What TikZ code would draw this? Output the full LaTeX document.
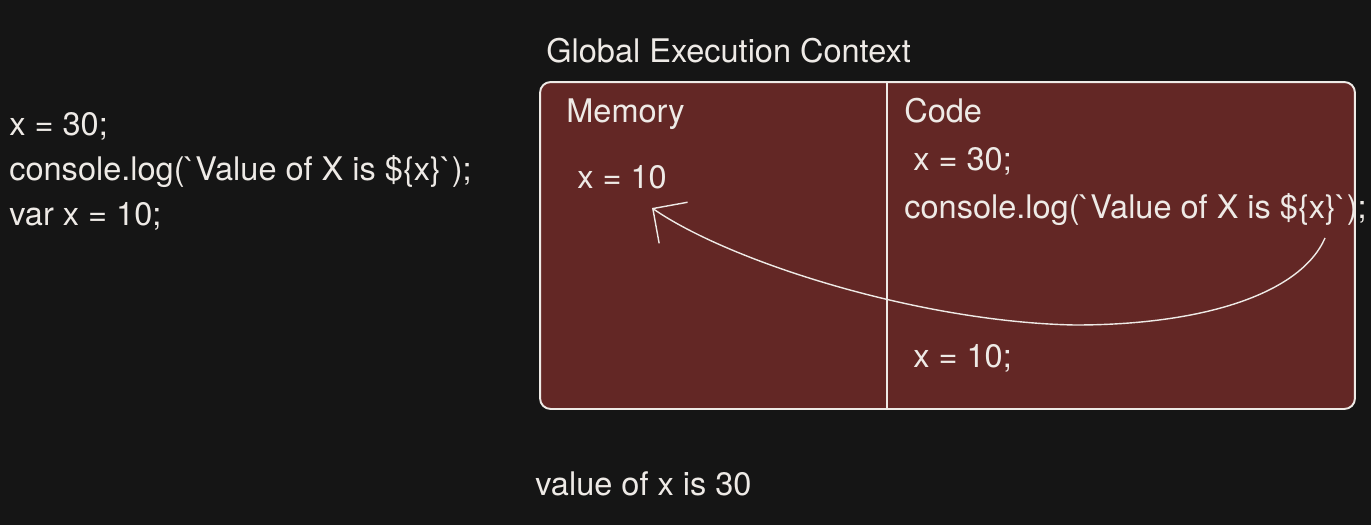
\documentclass[tikz,border=0pt]{standalone}
\usepackage{fontspec}
\setmainfont{TeX Gyre Heros}
\usepackage{tikz}
\usetikzlibrary{arrows.meta}
\definecolor{boardblack}{RGB}{21,21,21}
\definecolor{contextred}{RGB}{99,39,37}
\definecolor{chalkwhite}{RGB}{238,234,230}
\tikzset{
  codeline/.style={anchor=base west,inner sep=0pt,text=chalkwhite,
    font=\fontsize{18.5}{22}\selectfont},
  contextbox/.style={draw=chalkwhite,fill=contextred,rounded corners=6pt,
    line width=1.1pt,inner sep=0pt},
  divider/.style={draw=chalkwhite,line width=1.1pt},
  hoist/.style={-{Straight Barb[length=5mm,width=10mm]},line width=0.8pt,
    draw=chalkwhite}
}
\newcommand{\tick}{\textasciigrave}

\begin{document}
\begin{tikzpicture}[x=0.02cm,y=-0.02cm]
  \fill[boardblack] (0,0) rectangle (1371,525);
  \useasboundingbox (0,0) rectangle (1371,525);
  % source program
  \node[codeline] (src1) at (9,135) {x = 30;};
  \node[codeline] (src2) at (9,180) {console.log(\tick Value of X is \$\{x\}\tick);};
  \node[codeline] (src3) at (9,225) {var x = 10;};
  % execution context
  \node[codeline] (gectitle) at (546,62) {Global Execution Context};
  \node[contextbox,minimum width=16.3cm,minimum height=6.54cm] (gec)
    at (947.5,245.5) {};
  \coordinate (split) at (887,245);
  \draw[divider] (split |- gec.north) -- (split |- gec.south);
  \node[codeline] (memtitle) at (566,122) {Memory};
  \node[codeline] (memx) at (577,188) {x = 10};
  \node[codeline] (codetitle) at (904,122) {Code};
  \node[codeline] (code1) at (913,170) {x = 30;};
  \node[codeline] (code2) at (904,218) {console.log(\tick Value of X is \$\{x\}\tick);};
  \node[codeline] (code3) at (913,367) {x = 10;};
  % output
  \node[codeline] (output) at (535,495) {value of x is 30};
  % lookup of x
  \coordinate (logref) at (1325,238);
  \coordinate (memslot) at (652,208);
  \draw[hoist] (logref) .. controls (1300,295) and (1200,325) .. (1075,325)
    .. controls (920,322) and (730,262) .. (memslot);
\end{tikzpicture}
\end{document}
